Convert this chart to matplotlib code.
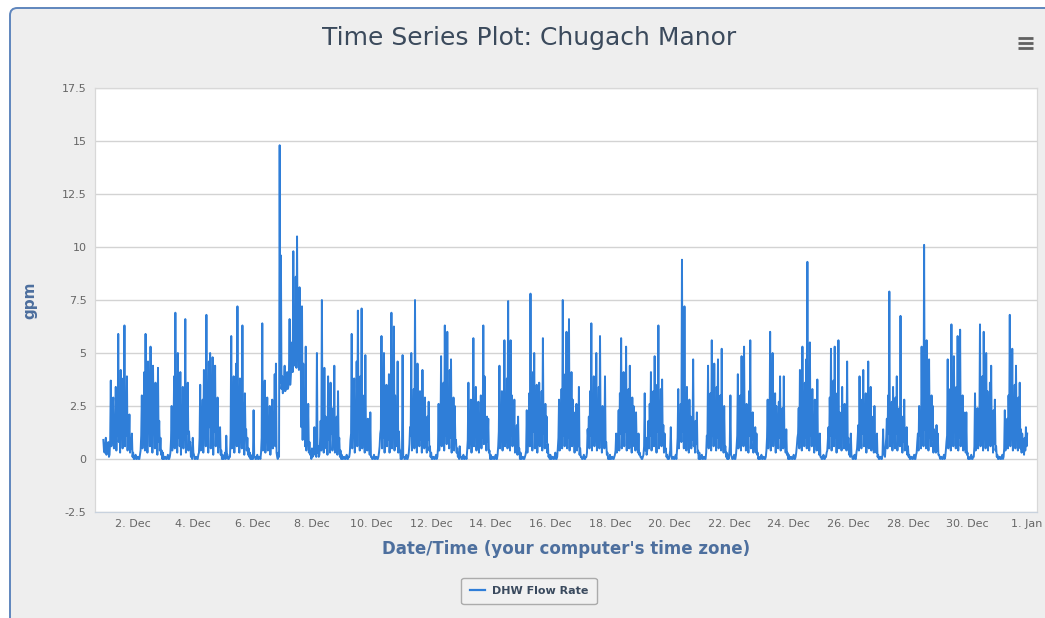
import matplotlib
matplotlib.use("Agg")
import matplotlib.pyplot as plt
import matplotlib.dates as mdates
from matplotlib.patches import FancyBboxPatch
from matplotlib.lines import Line2D
import pandas as pd

# ---- text -------------------------------------------------------------
title = "Time Series Plot: Chugach Manor"
series_name = "DHW Flow Rate"
y_label = "gpm"
x_label = "Date/Time (your computer's time zone)"

# ---- axes ticks ---------------------------------------------------------
y_ticks = [-2.5, 0, 2.5, 5, 7.5, 10, 12.5, 15, 17.5]
y_tick_labels = ["-2.5", "0", "2.5", "5", "7.5", "10", "12.5", "15", "17.5"]
x_tick_dates = ["2013-12-02", "2013-12-04", "2013-12-06", "2013-12-08",
                "2013-12-10", "2013-12-12", "2013-12-14", "2013-12-16",
                "2013-12-18", "2013-12-20", "2013-12-22", "2013-12-24",
                "2013-12-26", "2013-12-28", "2013-12-30", "2014-01-01"]
x_tick_labels = ["2. Dec", "4. Dec", "6. Dec", "8. Dec", "10. Dec", "12. Dec",
                 "14. Dec", "16. Dec", "18. Dec", "20. Dec", "22. Dec",
                 "24. Dec", "26. Dec", "28. Dec", "30. Dec", "1. Jan"]

# ---- half-hourly DHW flow rate (gpm), one row per day, from 1 Dec 00:00 ----
flow_week1 = [
    0.9, 0.4, 0.3, 0.6, 1.0, 0.2, 0.4, 0.7, 0.8, 0.1, 0.2, 0.9, 3.7, 0.6, 1.2, 2.4, 2.9, 0.5, 1.5, 1.0, 3.4, 0.4, 2.0, 1.1,
    5.9, 0.8, 1.8, 0.3, 4.2, 1.2, 2.6, 0.5, 3.8, 1.4, 6.3, 0.6, 2.4, 1.1, 3.9, 0.4, 1.6, 0.9, 2.1, 0.3, 0.8, 0.5, 1.2, 0.1,
    0.3, 0.0, 0.0, 0.1, 0.2, 0.0, 0.0, 0.1, 0.1, 0.0, 0.0, 0.2, 0.4, 1.1, 3.0, 0.5, 1.5, 1.2, 4.1, 0.4, 5.9, 1.0, 2.2, 0.3,
    4.6, 1.4, 1.8, 0.6, 5.3, 0.9, 2.5, 0.3, 4.4, 1.5, 1.9, 0.5, 3.6, 1.0, 1.4, 0.2, 4.3, 0.8, 1.8, 0.4, 1.0, 0.2, 0.4, 0.0,
    0.3, 0.0, 0.0, 0.1, 0.1, 0.0, 0.0, 0.1, 0.2, 0.0, 0.0, 0.1, 0.3, 0.9, 2.5, 0.4, 1.2, 1.1, 3.9, 0.5, 6.9, 1.3, 2.0, 0.3,
    5.0, 1.0, 2.6, 0.6, 4.1, 0.2, 1.5, 1.4, 3.4, 0.5, 2.2, 0.9, 6.6, 0.3, 2.8, 1.2, 3.6, 0.4, 1.3, 0.7, 0.8, 0.1, 0.2, 0.0,
    1.0, 0.3, 0.2, 0.0, 0.0, 0.1, 0.1, 0.0, 0.0, 0.2, 0.3, 1.0, 3.5, 0.4, 1.4, 1.0, 2.8, 0.3, 4.2, 1.2, 1.9, 0.6, 6.8, 0.9,
    3.0, 0.3, 4.6, 1.5, 5.0, 0.5, 2.1, 1.1, 4.8, 0.2, 3.2, 1.3, 4.4, 0.6, 1.8, 0.9, 2.9, 0.3, 1.2, 0.6, 1.5, 0.2, 0.4, 0.0,
    0.2, 0.0, 0.0, 0.1, 0.3, 0.0, 1.1, 0.2, 0.2, 0.0, 0.0, 0.1, 0.1, 1.2, 5.8, 0.5, 1.6, 1.1, 3.9, 0.3, 2.4, 1.0, 4.5, 0.6,
    7.2, 1.4, 2.2, 0.3, 3.8, 1.1, 1.5, 0.5, 6.3, 0.9, 2.6, 0.2, 3.1, 1.0, 1.4, 0.4, 1.0, 0.2, 0.5, 0.1, 0.3, 0.0, 0.1, 0.0,
    0.2, 0.0, 2.3, 0.1, 0.1, 0.0, 0.0, 0.1, 0.2, 0.0, 0.0, 0.1, 0.1, 0.0, 0.3, 1.0, 6.4, 0.4, 1.5, 1.1, 3.7, 0.3, 2.0, 0.8,
    2.9, 0.4, 1.2, 1.0, 2.5, 0.2, 0.9, 1.3, 2.8, 0.5, 1.8, 1.2, 4.0, 0.6, 4.5, 0.3, 0.1, 0.0, 0.3, 0.1, 14.8, 3.6, 9.6, 3.3,
    3.9, 3.1, 3.2, 3.6, 4.4, 3.2, 3.3, 3.9, 4.1, 3.3, 3.4, 4.2, 6.6, 3.5, 4.0, 4.6, 5.5, 4.1, 9.8, 4.4, 5.2, 4.8, 8.6, 4.3,
    10.5, 4.9, 6.0, 4.2, 8.1, 4.4, 4.6, 1.5, 7.2, 0.9, 4.5, 1.3, 2.3, 0.6, 5.3, 0.4, 1.4, 0.8, 2.6, 0.3, 0.8, 0.2, 0.3, 0.0,
]
flow_week2 = [
    0.5, 0.1, 0.2, 0.4, 1.5, 0.2, 0.3, 0.1, 5.0, 0.3, 0.6, 0.1, 0.2, 0.8, 1.8, 0.4, 7.5, 1.0, 1.2, 0.3, 4.3, 1.1, 2.0, 0.5,
    1.1, 0.2, 3.9, 0.9, 1.5, 0.3, 3.6, 1.2, 2.4, 0.4, 1.0, 0.8, 4.4, 0.3, 1.3, 0.9, 2.0, 0.2, 3.2, 0.6, 1.0, 0.1, 0.4, 0.0,
    0.2, 0.0, 0.0, 0.1, 0.1, 0.0, 0.0, 0.1, 0.2, 0.0, 0.0, 0.1, 0.1, 0.3, 0.9, 1.2, 5.9, 0.5, 2.0, 1.1, 3.8, 0.3, 1.4, 1.0,
    4.6, 0.6, 7.0, 1.5, 2.5, 0.4, 3.9, 1.2, 7.1, 0.5, 2.2, 0.9, 3.0, 0.3, 4.9, 1.1, 1.6, 0.4, 1.9, 0.6, 0.8, 0.2, 2.2, 0.1,
    0.1, 0.0, 0.0, 0.1, 0.2, 0.0, 0.0, 0.1, 0.1, 0.0, 0.0, 0.1, 0.3, 0.6, 1.2, 1.4, 5.8, 0.5, 2.1, 1.0, 5.0, 0.3, 1.8, 1.2,
    3.5, 0.6, 2.4, 0.9, 4.0, 0.3, 1.6, 1.3, 6.9, 0.5, 2.3, 1.0, 6.25, 0.4, 3.0, 1.2, 2.2, 0.6, 4.6, 0.3, 1.3, 0.5, 0.4, 0.0,
    0.2, 0.0, 4.9, 0.1, 0.1, 0.0, 0.0, 0.1, 0.2, 0.0, 0.0, 0.1, 0.3, 0.7, 1.5, 1.1, 5.0, 0.4, 2.4, 1.3, 3.3, 0.5, 7.5, 1.0,
    2.0, 0.3, 4.5, 1.2, 1.8, 0.6, 3.2, 0.9, 2.6, 0.3, 4.2, 1.1, 1.5, 0.5, 2.9, 0.8, 1.1, 0.3, 2.0, 0.9, 2.7, 0.4, 0.6, 0.1,
    0.3, 0.0, 0.0, 0.1, 0.1, 0.0, 0.0, 0.1, 0.2, 0.0, 0.1, 0.5, 2.6, 0.4, 1.2, 1.0, 4.85, 0.6, 2.0, 1.3, 3.6, 0.4, 6.3, 1.1,
    2.5, 0.7, 6.0, 1.4, 3.1, 0.5, 4.2, 1.0, 4.7, 0.3, 1.8, 1.2, 2.9, 0.4, 2.5, 0.8, 0.9, 0.3, 0.5, 0.1, 0.2, 0.0, 0.6, 0.1,
    0.1, 0.0, 0.0, 0.1, 0.2, 0.0, 0.0, 0.1, 0.1, 0.0, 0.4, 0.9, 3.6, 0.5, 1.3, 1.1, 2.8, 0.3, 1.7, 1.0, 5.7, 0.6, 2.2, 1.2,
    3.4, 0.4, 1.9, 0.9, 2.7, 0.3, 1.5, 1.1, 3.0, 0.5, 2.3, 1.0, 6.3, 0.7, 3.9, 1.3, 1.2, 0.4, 2.0, 0.8, 1.9, 0.3, 0.4, 0.0,
    0.2, 0.0, 0.0, 0.1, 0.1, 0.0, 0.0, 0.1, 0.2, 0.0, 0.0, 0.2, 0.6, 1.3, 4.4, 0.5, 1.8, 1.2, 3.2, 0.4, 2.4, 1.0, 5.6, 0.6,
    2.9, 1.4, 3.8, 0.5, 7.45, 1.2, 2.6, 0.4, 5.6, 1.1, 3.0, 0.6, 2.2, 0.9, 2.8, 0.3, 1.1, 0.7, 1.6, 0.2, 2.0, 0.4, 0.5, 0.0,
]
flow_week3 = [
    0.3, 0.0, 0.0, 0.1, 0.1, 0.0, 0.0, 0.1, 0.2, 0.4, 2.3, 0.3, 1.0, 1.2, 3.1, 0.6, 7.8, 1.1, 2.6, 0.4, 4.1, 1.3, 5.0, 0.5,
    2.2, 1.0, 3.5, 0.3, 1.7, 1.1, 3.6, 0.6, 2.0, 0.9, 3.2, 0.4, 5.7, 1.2, 1.9, 0.5, 2.6, 0.8, 2.0, 0.3, 0.7, 0.1, 0.2, 0.0,
    0.2, 0.0, 0.0, 0.1, 0.1, 0.0, 0.0, 0.1, 0.3, 0.0, 0.0, 0.1, 0.5, 1.0, 2.8, 0.4, 1.4, 1.2, 3.3, 0.5, 7.5, 1.1, 2.5, 0.6,
    4.0, 1.4, 6.0, 0.5, 2.7, 1.0, 6.6, 0.4, 3.0, 1.3, 4.1, 0.6, 2.8, 0.9, 1.6, 0.3, 2.2, 0.8, 2.6, 0.4, 1.0, 0.6, 3.4, 0.2,
    0.5, 0.1, 0.1, 0.0, 0.0, 0.1, 0.2, 0.0, 0.0, 0.1, 0.1, 0.3, 1.4, 0.9, 2.0, 0.5, 3.2, 1.1, 6.4, 0.4, 2.4, 1.2, 3.9, 0.6,
    1.8, 1.0, 5.0, 0.4, 2.7, 1.3, 3.4, 0.5, 5.8, 1.0, 2.1, 0.3, 2.5, 0.9, 1.5, 0.5, 3.9, 0.7, 0.8, 0.2, 0.3, 0.0, 0.1, 0.0,
    0.2, 0.0, 0.0, 0.1, 0.1, 0.0, 0.0, 0.1, 0.2, 0.4, 1.2, 0.3, 0.6, 1.0, 2.3, 0.4, 3.1, 1.2, 5.7, 0.5, 2.0, 1.1, 4.1, 0.6,
    2.6, 1.3, 5.3, 0.4, 1.9, 1.0, 3.3, 0.5, 4.4, 1.2, 1.7, 0.3, 2.9, 0.9, 2.5, 0.6, 1.2, 0.4, 2.2, 0.7, 0.8, 0.3, 1.2, 0.2,
    0.3, 0.1, 0.1, 0.0, 0.0, 0.1, 0.2, 0.6, 3.1, 0.4, 1.0, 0.2, 0.4, 0.9, 1.8, 0.5, 2.6, 1.1, 4.1, 0.4, 1.5, 1.2, 3.2, 0.6,
    4.85, 1.0, 2.0, 0.3, 3.5, 1.3, 6.3, 0.5, 2.4, 1.1, 3.3, 0.6, 3.75, 0.9, 1.6, 0.3, 1.2, 0.4, 0.5, 0.1, 0.2, 0.0, 0.1, 0.0,
    0.2, 0.4, 1.5, 0.1, 0.0, 0.1, 0.1, 0.0, 0.0, 0.1, 0.2, 0.0, 0.4, 1.0, 3.3, 0.5, 1.2, 1.1, 2.6, 0.8, 9.4, 1.3, 2.9, 0.5,
    7.2, 1.2, 1.8, 0.4, 3.4, 1.0, 1.4, 0.3, 2.8, 1.1, 2.0, 0.5, 1.6, 0.9, 4.7, 0.6, 1.3, 0.3, 1.8, 0.7, 2.2, 0.3, 0.4, 0.0,
    0.3, 0.0, 0.0, 0.1, 0.2, 0.0, 0.0, 0.1, 0.1, 0.0, 0.0, 0.3, 1.1, 0.9, 4.4, 0.5, 2.0, 1.2, 3.1, 0.4, 5.6, 1.1, 2.3, 0.6,
    4.5, 1.3, 1.9, 0.4, 3.4, 1.0, 4.7, 0.5, 2.2, 1.2, 3.0, 0.4, 5.2, 0.9, 1.5, 0.3, 2.5, 0.5, 0.6, 0.1, 0.3, 0.0, 0.2, 0.0,
]
flow_week4 = [
    0.2, 0.6, 3.0, 0.2, 0.1, 0.0, 0.0, 0.1, 0.2, 0.0, 0.0, 0.2, 0.6, 1.1, 4.0, 0.5, 1.7, 1.2, 3.0, 0.4, 4.85, 1.0, 2.1, 0.6,
    5.3, 1.3, 1.6, 0.4, 2.6, 1.0, 1.4, 0.3, 3.2, 1.1, 5.6, 0.5, 1.8, 0.9, 2.2, 0.3, 1.0, 0.6, 1.5, 0.3, 1.2, 0.2, 0.3, 0.0,
    0.1, 0.0, 0.0, 0.1, 0.2, 0.0, 0.0, 0.1, 0.1, 0.0, 0.0, 0.1, 0.4, 1.0, 2.8, 0.5, 1.3, 1.1, 6.0, 0.4, 2.2, 1.2, 5.0, 0.6,
    1.8, 1.0, 3.1, 0.3, 2.5, 1.1, 1.4, 0.5, 2.7, 1.0, 3.9, 0.4, 1.6, 1.2, 2.4, 0.5, 3.9, 0.8, 1.0, 0.3, 1.4, 0.2, 0.3, 0.0,
    0.2, 0.0, 0.0, 0.1, 0.1, 0.0, 0.0, 0.1, 0.2, 0.0, 0.0, 0.1, 0.3, 0.6, 1.0, 1.2, 2.4, 0.5, 4.2, 1.1, 1.8, 0.4, 5.3, 1.3,
    2.7, 0.6, 3.6, 1.0, 4.7, 0.5, 9.3, 1.2, 2.9, 0.4, 5.5, 1.1, 2.0, 0.6, 3.3, 0.9, 1.5, 0.3, 2.8, 0.8, 1.1, 0.4, 3.75, 0.5,
    0.6, 0.2, 1.2, 0.1, 0.1, 0.0, 0.0, 0.1, 0.2, 0.0, 0.0, 0.1, 0.1, 0.3, 0.4, 0.9, 1.5, 0.5, 2.9, 1.1, 5.2, 0.4, 2.0, 1.2,
    3.7, 0.6, 5.3, 1.0, 2.4, 0.3, 3.1, 1.2, 5.6, 0.5, 2.2, 1.0, 1.5, 0.4, 3.4, 1.1, 1.8, 0.5, 2.6, 0.9, 1.3, 0.4, 4.6, 0.6,
    1.0, 0.2, 0.3, 0.1, 1.2, 0.2, 0.1, 0.0, 0.0, 0.1, 0.2, 0.0, 0.0, 0.3, 0.5, 1.0, 1.6, 0.4, 3.9, 1.1, 1.7, 0.5, 2.8, 1.2,
    4.2, 0.6, 2.0, 1.0, 3.1, 0.3, 1.5, 1.1, 4.6, 0.5, 2.3, 0.9, 3.4, 0.4, 1.2, 0.8, 2.0, 0.3, 2.5, 0.6, 0.8, 0.3, 1.2, 0.1,
    0.2, 0.0, 0.0, 0.1, 0.1, 0.0, 0.0, 0.2, 1.4, 0.3, 0.2, 0.1, 0.6, 1.0, 1.9, 0.5, 3.0, 1.2, 7.9, 0.6, 2.2, 1.1, 2.7, 0.4,
    3.4, 1.0, 1.6, 0.5, 2.9, 1.2, 3.9, 0.4, 1.5, 1.0, 2.4, 0.6, 6.75, 0.9, 1.7, 0.3, 2.0, 0.8, 2.8, 0.4, 1.0, 0.5, 1.5, 0.2,
    0.6, 0.1, 0.2, 0.0, 0.0, 0.1, 0.1, 0.0, 0.0, 0.1, 0.2, 0.0, 0.0, 0.2, 0.3, 0.8, 1.2, 0.4, 2.5, 1.1, 1.8, 0.5, 5.3, 1.2,
    2.4, 0.6, 10.1, 1.4, 3.0, 0.5, 5.6, 1.1, 2.2, 0.4, 4.7, 1.0, 1.9, 0.6, 3.0, 0.9, 2.5, 0.3, 1.4, 0.7, 0.9, 0.3, 1.6, 0.4,
]
flow_week5 = [
    1.2, 0.2, 0.2, 0.1, 0.0, 0.1, 0.1, 0.0, 0.0, 0.1, 0.2, 0.0, 0.1, 0.4, 0.8, 1.1, 4.7, 0.5, 2.0, 1.2, 3.3, 0.4, 6.35, 1.0,
    2.6, 0.6, 4.85, 1.3, 1.9, 0.5, 3.4, 1.1, 5.8, 0.4, 2.4, 1.0, 6.1, 0.6, 1.7, 0.9, 3.0, 0.4, 2.2, 0.8, 1.1, 0.3, 2.2, 0.2,
    0.3, 0.0, 0.1, 0.0, 0.0, 0.1, 0.2, 0.0, 0.0, 0.1, 0.1, 0.6, 3.1, 0.4, 0.9, 1.1, 2.4, 0.5, 1.6, 1.2, 6.35, 0.6, 2.8, 1.0,
    3.9, 0.4, 6.0, 1.3, 2.5, 0.5, 5.0, 1.1, 3.2, 0.4, 2.1, 1.0, 3.6, 0.6, 4.4, 0.9, 1.8, 0.3, 2.3, 0.7, 2.8, 0.4, 0.6, 0.1,
    0.2, 0.0, 0.0, 0.1, 0.1, 0.0, 0.0, 0.1, 0.2, 0.0, 0.1, 0.5, 2.3, 0.4, 0.7, 1.0, 1.9, 0.5, 3.0, 1.2, 6.8, 0.6, 2.1, 1.1,
    5.2, 0.4, 2.6, 1.0, 3.5, 0.5, 4.4, 1.2, 1.8, 0.4, 2.9, 0.9, 3.6, 0.5, 1.4, 0.3, 1.2, 0.6, 0.5, 0.2, 1.0, 0.4, 1.5, 0.6,
    1.2,
]

flow = flow_week1 + flow_week2 + flow_week3 + flow_week4 + flow_week5
times = pd.date_range("2013-12-01 00:00", periods=len(flow), freq="30min")

# ---- colours ---------------------------------------------------------------
panel_bg = "#eeeeee"
line_color = "#2f7ed8"
grid_color = "#d3d3d3"
title_color = "#3b4a5c"
axis_title_color = "#4d6f9e"
tick_color = "#666666"

W, H = 1045, 618
fig = plt.figure(figsize=(W / 100, H / 100), dpi=100, facecolor="white")

# panel with rounded top-left corner and blue border
panel = FancyBboxPatch((10 / W, -0.05), 1.2, (H - 8) / H + 0.05,
                       boxstyle="round,pad=0,rounding_size=0.007",
                       mutation_aspect=W / H,
                       transform=fig.transFigure, facecolor=panel_bg,
                       edgecolor="#5f86bd", linewidth=1.4, zorder=-10)
fig.patches.append(panel)

ax = fig.add_axes([95 / W, 1 - 512 / H, (1037 - 95) / W, (512 - 88) / H])
ax.set_zorder(1)
ax.set_facecolor("white")

ax.plot(times, flow, color=line_color, linewidth=1.4, zorder=3,
        solid_joinstyle="round")

ax.set_ylim(-2.5, 17.5)
ax.set_yticks(y_ticks)
ax.set_yticklabels(y_tick_labels)
x0 = mdates.date2num(pd.Timestamp("2013-12-01 00:00")) - 0.28
x1 = mdates.date2num(pd.Timestamp("2014-01-01 00:00")) + 0.33
ax.set_xlim(x0, x1)
ax.set_xticks([mdates.date2num(pd.Timestamp(d)) for d in x_tick_dates])
ax.set_xticklabels(x_tick_labels)

ax.grid(axis="y", color=grid_color, linewidth=1.0, zorder=1)
ax.grid(axis="x", visible=False)
ax.set_axisbelow(True)
for side, sp in ax.spines.items():
    sp.set_color("#d8d8d8")
    sp.set_linewidth(0.9)
ax.spines["bottom"].set_color("#c8d2de")

ax.tick_params(axis="both", length=0, labelsize=8, labelcolor=tick_color)
ax.tick_params(axis="y", pad=6)
ax.tick_params(axis="x", pad=5)

ax.set_ylabel(y_label, fontsize=11, fontweight="bold", color=axis_title_color,
              labelpad=18)
ax.set_xlabel(x_label, fontsize=12, fontweight="bold", color=axis_title_color,
              labelpad=8)

fig.text(529 / W, 1 - 38 / H, title, ha="center", va="center",
         fontsize=18, color=title_color)

# export menu icon
for yy in (38, 43, 48):
    fig.add_artist(Line2D([1018 / W, 1033 / W], [1 - yy / H, 1 - yy / H],
                          transform=fig.transFigure, color="#606060",
                          linewidth=2.0, solid_capstyle="butt"))

handle = Line2D([], [], color=line_color, linewidth=1.6)
leg = fig.legend([handle], [series_name], loc="center",
                 bbox_to_anchor=(529 / W, 1 - 591 / H),
                 frameon=True, fancybox=True, handlelength=1.4,
                 handletextpad=0.6, borderpad=0.75,
                 prop={"size": 8, "weight": "bold"})
leg.get_frame().set_facecolor("#f2f2f2")
leg.get_frame().set_edgecolor("#9a9a9a")
leg.get_frame().set_linewidth(1.0)
for t in leg.get_texts():
    t.set_color("#3a4a5e")

fig.savefig("out.png", dpi=100, facecolor=fig.get_facecolor())
